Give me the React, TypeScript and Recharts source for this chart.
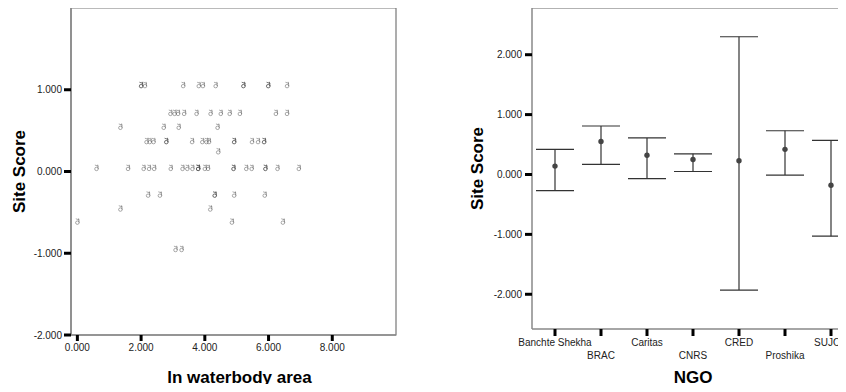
import {
  ComposedChart,
  ErrorBar,
  Line,
  ReferenceArea,
  Scatter,
  ScatterChart,
  XAxis,
  YAxis,
} from "recharts";

const FONT = '"Liberation Sans", Arial, sans-serif';

// left panel: site score vs ln waterbody area
const waterbodyArea = [
  2.0, 2.0, 2.12, 3.32, 3.81, 3.94, 4.34, 5.21, 5.21, 5.99, 5.99, 6.58,
  2.92, 3.05, 3.16, 3.35, 3.74, 4.18, 4.5, 4.78, 5.1, 6.23, 6.58,
  1.35, 2.71, 3.18, 4.4,
  2.17, 2.27, 2.39, 2.79, 2.79, 3.6, 3.92, 4.05, 4.13, 4.92, 4.92, 5.48, 5.67, 5.86, 5.86,
  4.42,
  0.6, 1.59, 2.08, 2.25, 2.41, 2.93, 3.3, 3.45, 3.61, 3.79, 3.79, 3.79, 4.0, 4.1, 4.9, 4.9, 5.3, 5.47, 5.9, 5.9, 6.28, 6.95,
  2.22, 2.59, 4.31, 4.31, 4.92, 5.88,
  1.35, 4.17,
  0.0, 4.85, 6.45,
  3.08, 3.27,
];
const siteScore = [
  1.06, 1.06, 1.06, 1.06, 1.06, 1.06, 1.06, 1.06, 1.06, 1.06, 1.06, 1.06,
  0.72, 0.72, 0.72, 0.72, 0.72, 0.72, 0.72, 0.72, 0.72, 0.72, 0.72,
  0.55, 0.55, 0.55, 0.55,
  0.375, 0.375, 0.375, 0.375, 0.375, 0.375, 0.375, 0.375, 0.375, 0.375, 0.375, 0.375, 0.375, 0.375, 0.375,
  0.25,
  0.047, 0.047, 0.047, 0.047, 0.047, 0.047, 0.047, 0.047, 0.047, 0.047, 0.047, 0.047, 0.047, 0.047, 0.047, 0.047, 0.047, 0.047, 0.047, 0.047, 0.047, 0.047,
  -0.28, -0.28, -0.28, -0.28, -0.28, -0.28,
  -0.45, -0.45,
  -0.61, -0.61, -0.61,
  -0.945, -0.945,
];
const areaTicks = [0, 2, 4, 6, 8];
const scoreTicksLeft = [-2, -1, 0, 1];

// right panel: mean site score by NGO with error bars
const ngos = ["Banchte Shekha", "BRAC", "Caritas", "CNRS", "CRED", "Proshika", "SUJON"];
const ngoMean = [0.14, 0.55, 0.32, 0.25, 0.23, 0.42, -0.18];
const ngoLower = [-0.27, 0.17, -0.07, 0.05, -1.93, -0.01, -1.03];
const ngoUpper = [0.42, 0.81, 0.61, 0.345, 2.3, 0.73, 0.57];
const scoreTicksRight = [-2, -1, 0, 1, 2];
const rightDomain: [number, number] = [-2.58, 2.78];
const ngoDomain: [number, number] = [-0.5, 6.5];

const scatterData = waterbodyArea.map((x, i) => ({ x, y: siteScore[i] }));
const ngoData = ngos.map((ngo, i) => ({
  idx: i,
  ngo,
  mean: ngoMean[i],
  err: [ngoMean[i] - ngoLower[i], ngoUpper[i] - ngoMean[i]],
}));
const ngoTicks = ngos.map((_, i) => i);

const fmt = (v: number) => Number(v).toFixed(3);
const tickStyle = { fontSize: 10, fill: "#222", fontFamily: FONT };
const titleStyle = { fontSize: 17, fontWeight: 700, fill: "#000", fontFamily: FONT };

// small "case" glyph like the SPSS marker, overlapping cases get darker
function CaseMarker(props: any) {
  const { cx, cy } = props;
  if (cx == null || cy == null) return <g />;
  return (
    <g stroke="#444" strokeOpacity={0.5} strokeWidth={0.9} fill="none">
      <ellipse cx={cx} cy={cy + 1.3} rx={1.8} ry={1.7} />
      <path d={`M${cx + 1.8} ${cy + 1.3} L${cx + 1.2} ${cy - 3} M${cx - 1.6} ${cy - 2.6} L${cx + 2} ${cy - 1.4}`} />
    </g>
  );
}

function MeanDot(props: any) {
  const { cx, cy } = props;
  if (cx == null || cy == null) return <g key={props.index} />;
  return <circle key={props.index} cx={cx} cy={cy} r={2.7} fill="#444" />;
}

function NgoTick(props: any) {
  const { x, y, payload, index } = props;
  return (
    <text
      x={x}
      y={y + (index % 2 ? 13 : 0)}
      dy="0.71em"
      textAnchor="middle"
      fontSize={10}
      fill="#222"
      fontFamily={FONT}
    >
      {ngos[payload.value] ?? ""}
    </text>
  );
}

export default function App() {
  return (
    <div
      style={{
        position: "relative",
        width: 846,
        height: 392,
        margin: -8,
        overflow: "hidden",
        background: "#fff",
        fontFamily: FONT,
      }}
    >
      <div style={{ position: "absolute", left: 0, top: 0 }}>
        <ScatterChart width={420} height={392} margin={{ top: 8, right: 24, bottom: 0, left: 0 }}>
          <ReferenceArea y1={-2} y2={2} fill="none" stroke="#777" strokeWidth={1.2} />
          <XAxis
            type="number"
            dataKey="x"
            domain={[-0.2, 10]}
            ticks={areaTicks}
            allowDataOverflow
            tickFormatter={fmt}
            height={57}
            axisLine={{ stroke: "#888", strokeWidth: 1.5 }}
            tickLine={{ stroke: "#000", strokeWidth: 3 }}
            tickSize={6}
            tickMargin={3}
            tick={tickStyle}
            label={{ value: "ln waterbody area", position: "insideBottom", offset: 9, dx: 6, style: titleStyle }}
          />
          <YAxis
            type="number"
            dataKey="y"
            domain={[-2, 2]}
            ticks={scoreTicksLeft}
            allowDataOverflow
            tickFormatter={fmt}
            width={71}
            axisLine={{ stroke: "#888", strokeWidth: 1.5 }}
            tickLine={{ stroke: "#000", strokeWidth: 3 }}
            tickSize={7}
            tickMargin={2}
            tick={tickStyle}
            label={{ value: "Site Score", angle: -90, position: "center", dx: -17, style: titleStyle }}
          />
          <Scatter data={scatterData} shape={CaseMarker} isAnimationActive={false} />
        </ScatterChart>
      </div>

      <div style={{ position: "absolute", left: 428, top: 0 }}>
        <ComposedChart width={440} height={392} data={ngoData} margin={{ top: 7, right: 14, bottom: 0, left: 0 }}>
          <XAxis
            dataKey="idx"
            type="number"
            domain={ngoDomain}
            ticks={ngoTicks}
            allowDataOverflow
            height={63}
            interval={0}
            axisLine={{ stroke: "#888", strokeWidth: 1.5 }}
            tickLine={{ stroke: "#000", strokeWidth: 3 }}
            tickSize={7}
            tickMargin={3}
            tick={NgoTick}
            label={{ value: "NGO", position: "insideBottom", offset: 9, style: titleStyle }}
          />
          {/* top edge of the plot frame; the right edge lies past the picture */}
          <XAxis
            xAxisId="frame"
            orientation="top"
            dataKey="idx"
            type="number"
            domain={ngoDomain}
            allowDataOverflow
            height={1}
            tick={false}
            tickLine={false}
            axisLine={{ stroke: "#666", strokeWidth: 1.2 }}
          />
          <YAxis
            type="number"
            domain={rightDomain}
            ticks={scoreTicksRight}
            allowDataOverflow
            tickFormatter={fmt}
            width={104}
            axisLine={{ stroke: "#888", strokeWidth: 1.5 }}
            tickLine={{ stroke: "#000", strokeWidth: 3 }}
            tickSize={7}
            tickMargin={3}
            tick={tickStyle}
            label={{ value: "Site Score", angle: -90, position: "center", dx: -3, style: titleStyle }}
          />
          <Line dataKey="mean" stroke="none" dot={MeanDot} activeDot={false} isAnimationActive={false}>
            <ErrorBar dataKey="err" direction="y" width={19} stroke="#333" strokeWidth={1.2} />
          </Line>
        </ComposedChart>
      </div>
    </div>
  );
}
